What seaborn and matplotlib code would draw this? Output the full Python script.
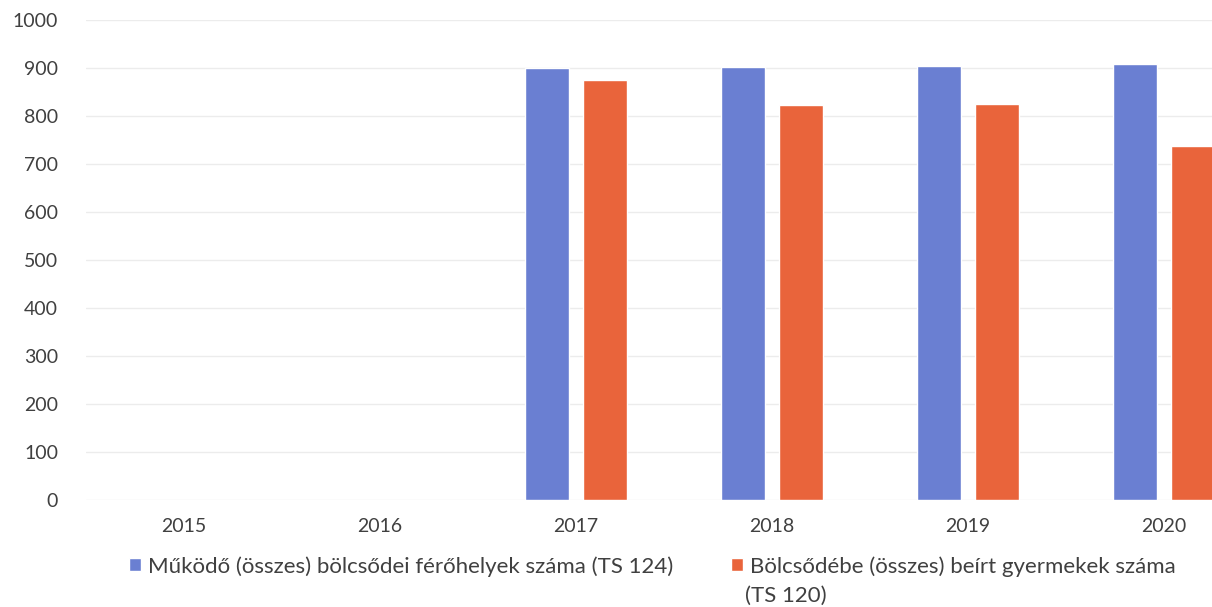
import matplotlib
matplotlib.use("Agg")
import matplotlib.pyplot as plt
import seaborn as sns
import pandas as pd
import numpy as np
from matplotlib.patches import Patch

years = ["2015", "2016", "2017", "2018", "2019", "2020"]
ferohelyek = [np.nan, np.nan, 900, 903, 905, 908]
beirt = [np.nan, np.nan, 876, 822, 826, 738]
series_names = ["Működő (összes) bölcsődei férőhelyek száma (TS 124)",
                "Bölcsődébe (összes) beírt gyermekek száma (TS 120)"]
yticks = [0, 100, 200, 300, 400, 500, 600, 700, 800, 900, 1000]

colors = ["#6a7fd2", "#e9643b"]

df = pd.DataFrame({
    "year": years * 2,
    "series": [series_names[0]] * len(years) + [series_names[1]] * len(years),
    "value": ferohelyek + beirt,
})

sns.set_theme(style="white")
plt.rcParams["font.family"] = ["Lato", "DejaVu Sans"]

fig = plt.figure(figsize=(12.12, 6.07), dpi=100)
ax = fig.add_axes([86 / 1212, 107 / 607, 1176 / 1212, 480 / 607])

sns.barplot(data=df, x="year", y="value", hue="series", order=years,
            hue_order=series_names, palette=colors, width=0.595, gap=0.24,
            saturation=1, legend=False, ax=ax)

ax.set_xlim(-0.5, 5.5)
ax.set_ylim(0, 1000)
ax.set_yticks(yticks)
ax.set_yticklabels([str(t) for t in yticks])
ax.set_xlabel("")
ax.set_ylabel("")
for s in ax.spines.values():
    s.set_visible(False)
ax.yaxis.grid(True, color="#ececec", linewidth=1.0)
ax.set_axisbelow(True)
ax.tick_params(axis="y", length=0, pad=20, labelsize=14, labelcolor="#404040")
ax.tick_params(axis="x", length=0, pad=13, labelsize=14, labelcolor="#404040")

handles = [Patch(facecolor=colors[0]), Patch(facecolor=colors[1])]
leg = fig.legend(handles, ["Működő (összes) bölcsődei férőhelyek száma (TS 124)",
                           "Bölcsődébe (összes) beírt gyermekek száma"],
                 ncol=2, loc="upper left", bbox_to_anchor=(129 / 1212, 1 - 556 / 607),
                 frameon=False, fontsize=16, handlelength=0.55, handleheight=0.55,
                 handletextpad=0.3, columnspacing=2.6, labelcolor="#404040",
                 borderpad=0, borderaxespad=0)
fig.text(745 / 1212, 1 - 596 / 607, "(TS 120)", fontsize=16, color="#404040",
         va="center", ha="left")

fig.savefig("out.png", dpi=100, facecolor="white")
